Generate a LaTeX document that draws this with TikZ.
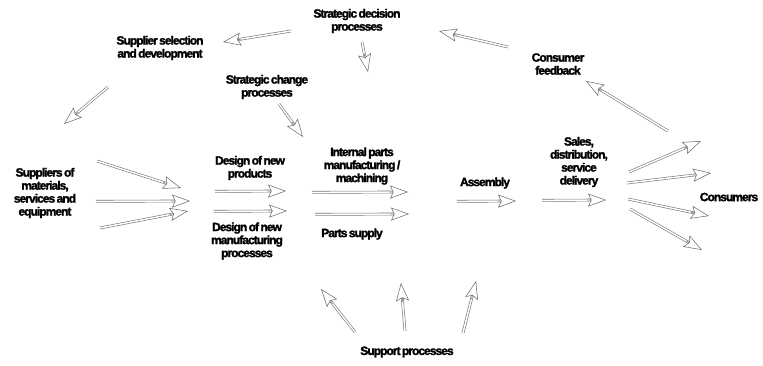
\documentclass[tikz,border=0pt]{standalone}
\usepackage{fontspec}
\newfontfamily\lblfont{Liberation Sans Bold}[LetterSpace=-8,WordSpace=0.6,FakeBold=2]
\usetikzlibrary{arrows.meta,calc}
\tikzset{
  lbl/.style={align=center,inner sep=0pt,font=\lblfont\fontsize{12}{13}\selectfont},
  shaft/.style={draw=black!55,line width=0.6pt,double=white,double distance=1.5pt},
  headtip/.style={draw=black!60,line width=0.5pt,-{Stealth[open,length=18pt,width=13pt,inset=3pt]}},
}
\newcommand\hollowarrow[2]{%
  \draw[shaft] (#1) -- ($(#2)!15pt!(#1)$);
  \draw[headtip] ($(#2)!18.6pt!(#1)$) -- (#2);}
\begin{document}
\begin{tikzpicture}[x=1pt,y=-1pt]
\useasboundingbox (0,0) rectangle (763,365);
% labels
\node[lbl] (sdp) at (357,21) {Strategic decision\\processes};
\node[lbl] (ssd) at (160,48) {Supplier selection\\and development};
\node[lbl] (scp) at (267,87) {Strategic change\\processes};
\node[lbl] (cfb) at (558,64) {Consumer\\feedback};
\node[lbl] (sup) at (45,193) {Suppliers of\\materials,\\services and\\equipment};
\node[lbl] (dnp) at (250,168) {Design of new\\products};
\node[lbl] (dnm) at (247,241) {Design of new\\manufacturing\\processes};
\node[lbl] (ipm) at (362,166) {Internal parts\\manufacturing /\\machining};
\node[lbl] (pts) at (352,234) {Parts supply};
\node[lbl] (asm) at (485,183) {Assembly};
\node[lbl] (sal) at (579,162) {Sales,\\distribution,\\service\\delivery};
\node[lbl] (con) at (729,197) {Consumers};
\node[lbl] (spp) at (407,352) {Support processes};
% arrow end points
\coordinate (a1t) at (291,31);  \coordinate (a1h) at (223,42);
\coordinate (a2t) at (362,42);  \coordinate (a2h) at (368,72);
\coordinate (a3t) at (108,87);  \coordinate (a3h) at (64,124);
\coordinate (a4t) at (279,104); \coordinate (a4h) at (303,137);
\coordinate (a5t) at (668,131); \coordinate (a5h) at (586,81);
\coordinate (a6t) at (508,47);  \coordinate (a6h) at (439,31);
\coordinate (f1t) at (629,172); \coordinate (f1h) at (701,141);
\coordinate (f2t) at (627,183); \coordinate (f2h) at (711,173);
\coordinate (f3t) at (628,199); \coordinate (f3h) at (709,216);
\coordinate (f4t) at (630,209); \coordinate (f4h) at (702,250);
\coordinate (s1t) at (97,161);  \coordinate (s1h) at (181,188);
\coordinate (s2t) at (96,201.3);  \coordinate (s2h) at (190,201);
\coordinate (s3t) at (100,228); \coordinate (s3h) at (188,211);
\coordinate (d1t) at (215,191.3); \coordinate (d1h) at (286,191);
\coordinate (d2t) at (214,211.3); \coordinate (d2h) at (287,211);
\coordinate (i1t) at (312,192.3); \coordinate (i1h) at (408,192);
\coordinate (p1t) at (315,214.3); \coordinate (p1h) at (409,214);
\coordinate (m1t) at (457,201.3); \coordinate (m1h) at (516,201);
\coordinate (m2t) at (542,200.3); \coordinate (m2h) at (606,200);
\coordinate (u1t) at (355,332); \coordinate (u1h) at (321,289);
\coordinate (u2t) at (405,331); \coordinate (u2h) at (401,283);
\coordinate (u3t) at (463,333); \coordinate (u3h) at (476,281);
% arrows
\hollowarrow{a1t}{a1h}
\hollowarrow{a2t}{a2h}
\hollowarrow{a3t}{a3h}
\hollowarrow{a4t}{a4h}
\hollowarrow{a5t}{a5h}
\hollowarrow{a6t}{a6h}
\hollowarrow{f1t}{f1h}
\hollowarrow{f2t}{f2h}
\hollowarrow{f3t}{f3h}
\hollowarrow{f4t}{f4h}
\hollowarrow{s1t}{s1h}
\hollowarrow{s2t}{s2h}
\hollowarrow{s3t}{s3h}
\hollowarrow{d1t}{d1h}
\hollowarrow{d2t}{d2h}
\hollowarrow{i1t}{i1h}
\hollowarrow{p1t}{p1h}
\hollowarrow{m1t}{m1h}
\hollowarrow{m2t}{m2h}
\hollowarrow{u1t}{u1h}
\hollowarrow{u2t}{u2h}
\hollowarrow{u3t}{u3h}
\end{tikzpicture}
\end{document}
